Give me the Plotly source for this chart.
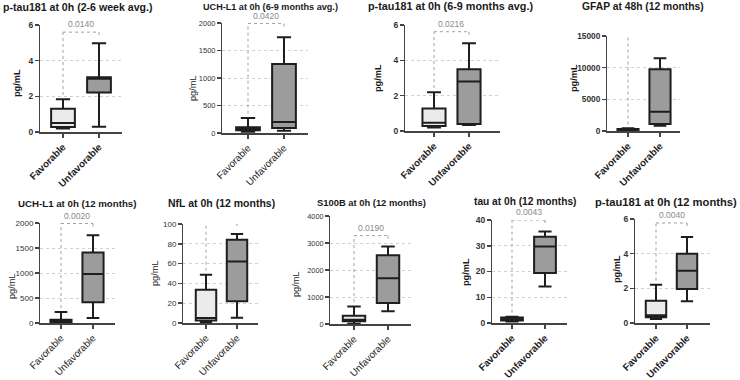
import plotly.graph_objects as go

# ---------------- data ----------------
titles = [
    "p-tau181 at 0h (2-6 week avg.)",
    "UCH-L1 at 0h (6-9 months avg.)",
    "p-tau181 at 0h (6-9 months avg.)",
    "GFAP at 48h (12 months)",
    "UCH-L1 at 0h (12 months)",
    "NfL at 0h (12 months)",
    "S100B at 0h (12 months)",
    "tau at 0h (12 months)",
    "p-tau181 at 0h (12 months)",
]
categories = ["Favorable", "Unfavorable"]
y_label = "pg/mL"

fav_min = [0.19, 25, 0.20, 50, 0, 0.5, 12, 0.6, 0.23]
fav_q1 = [0.28, 48, 0.28, 105, 13, 2.4, 98, 1.0, 0.33]
fav_med = [0.50, 70, 0.47, 200, 33, 5.0, 160, 1.5, 0.44]
fav_q3 = [1.30, 103, 1.28, 316, 66, 33.7, 308, 2.1, 1.29]
fav_max = [1.84, 273, 2.19, 420, 218, 48.8, 652, 2.4, 2.21]

unf_min = [0.30, 42, 0.34, 842, 99, 5.4, 468, 14.2, 1.25]
unf_q1 = [2.22, 91, 0.39, 1105, 417, 22, 775, 19.4, 1.96]
unf_med = [2.98, 200, 2.80, 3053, 980, 62, 1698, 29.7, 3.02]
unf_q3 = [3.07, 1254, 3.50, 9737, 1410, 84, 2548, 33.5, 4.00]
unf_max = [4.97, 1739, 4.96, 11474, 1755, 90, 2868, 35.5, 4.96]

p_values = ["0.0140", "0.0420", "0.0216", "0.0286", "0.0020", "0.0390", "0.0190", "0.0043", "0.0040"]
bracket_top = [5.6, 1990, 5.62, 16200, 1990, 101, 3274, 40, 5.77]

y_max = [6, 2000, 6, 15000, 2000, 100, 4000, 40, 6]
y_dtick = [2, 500, 2, 5000, 500, 20, 1000, 10, 2]

# ---------------- layout (pixels) ----------------
W, H = 740, 380
plot_px = [  # x_left, x_right, y_top, y_bottom
    (40, 122, 25, 132), (222, 308, 23, 133), (405, 500, 25, 131), (607, 680, 36, 131),
    (40, 115, 223, 323), (183, 258, 224, 323), (330, 411, 216, 324), (492, 567, 220, 323),
    (635, 710, 219, 323),
]
fav_px = [63, 248, 434, 628, 61, 206, 354, 512, 656]
unf_px = [99, 284, 469, 660, 93, 237, 388, 545, 687]
title_px = [(78, 7), (270, 7), (450, 6), (643, 6), (77, 203), (221, 203), (371, 202), (525, 201), (666, 202)]
ylab_px = [(17, 83), (193, 88), (378, 78), (574, 78), (12, 286), (155, 273), (296, 284), (466, 272), (617, 269)]
title_size = [10.6, 9.1, 10.8, 10.3, 9.7, 10.5, 9.4, 10.2, 11.2]
ytick_size = [8.5, 7.5, 8.5, 8.3, 8.0, 8.0, 7.3, 8.5, 8.5]
bold = [True, False, True, True, False, False, False, True, True]

FONT = "Liberation Sans, Arial, sans-serif"
fav_fill = "#ebebeb"
unf_fill = "#9c9c9c"
edge = "#1e1e1e"
axis_col = "#444444"

fig = go.Figure()
layout = dict(
    template="none",
    width=W, height=H, margin=dict(l=0, r=0, t=0, b=0, autoexpand=False),
    paper_bgcolor="white", plot_bgcolor="white", showlegend=False,
    font=dict(family=FONT, color="#222222"),
)
shapes, annotations = [], []

for i in range(9):
    sfx = "" if i == 0 else str(i + 1)
    xa, ya = "x" + sfx, "y" + sfx
    xl, xr, yt, yb = plot_px[i]
    s = unf_px[i] - fav_px[i]
    xlo = -(fav_px[i] - xl) / s
    xhi = 1 + (xr - unf_px[i]) / s
    w = "bold" if bold[i] else "normal"

    for cat, mn, q1, md, q3, mx, fill in [
        (categories[0], fav_min[i], fav_q1[i], fav_med[i], fav_q3[i], fav_max[i], fav_fill),
        (categories[1], unf_min[i], unf_q1[i], unf_med[i], unf_q3[i], unf_max[i], unf_fill),
    ]:
        fig.add_trace(go.Box(
            x=[cat], q1=[q1], median=[md], q3=[q3], lowerfence=[mn], upperfence=[mx],
            width=0.66, whiskerwidth=0.6, fillcolor=fill,
            line=dict(color=edge, width=2), boxpoints=False,
            xaxis=xa, yaxis=ya, hoverinfo="skip",
        ))

    layout["xaxis" + sfx] = dict(
        domain=[xl / W, xr / W], anchor=ya, type="category", categoryarray=categories,
        range=[xlo, xhi], showline=True, linecolor=axis_col, linewidth=1.5,
        ticks="outside", ticklen=4, tickcolor=axis_col, tickwidth=1.5,
        tickangle=-45, tickfont=dict(size=9.8, color="#222", weight=w),
        showgrid=False, zeroline=False, fixedrange=True, automargin=False,
    )
    layout["yaxis" + sfx] = dict(
        domain=[1 - yb / H, 1 - yt / H], anchor=xa, range=[0, y_max[i]],
        tick0=0, dtick=y_dtick[i], tickformat="d", showline=True, linecolor=axis_col, linewidth=1.5,
        ticks="outside", ticklen=3.5, tickcolor=axis_col, tickwidth=1.5,
        tickfont=dict(size=ytick_size[i], color="#333", weight=w),
        showgrid=True, gridcolor="#d0d0d0", griddash="dot", gridwidth=1,
        zeroline=False, fixedrange=True, automargin=False,
    )

    # significance bracket
    top = bracket_top[i]
    left_end = fav_max[i] + 0.04 * y_max[i]
    right_end = top - 0.055 * y_max[i]
    bl = dict(color="#a0a0a0", width=1, dash="dot")
    for x0, y0, x1, y1 in [(0, left_end, 0, top), (0, top, 1, top), (1, top, 1, right_end)]:
        shapes.append(dict(type="line", xref=xa, yref=ya, x0=x0, y0=y0, x1=x1, y1=y1, line=bl))
    annotations.append(dict(
        xref=xa, yref=ya, x=0.5, y=top, text=p_values[i], showarrow=False,
        yanchor="bottom", yshift=1, font=dict(size=8.5, color="#8a8a8a"),
    ))

    # title and y label
    tx, ty = title_px[i]
    annotations.append(dict(
        xref="paper", yref="paper", x=tx / W, y=1 - ty / H, text=titles[i], showarrow=False,
        xanchor="center", yanchor="middle",
        font=dict(size=title_size[i], color="#1a1a1a", weight="bold"),
    ))
    lx, ly = ylab_px[i]
    annotations.append(dict(
        xref="paper", yref="paper", x=lx / W, y=1 - ly / H, text=y_label, showarrow=False,
        xanchor="center", yanchor="middle", textangle=-90,
        font=dict(size=9.2, color="#1a1a1a", weight=w),
    ))

layout["shapes"] = shapes
layout["annotations"] = annotations
fig.update_layout(**layout)
fig.write_html(
    "out.html",
    config={"displayModeBar": False, "staticPlot": True},
    post_script="document.body.style.margin='0';document.body.style.overflow='hidden';",
)
